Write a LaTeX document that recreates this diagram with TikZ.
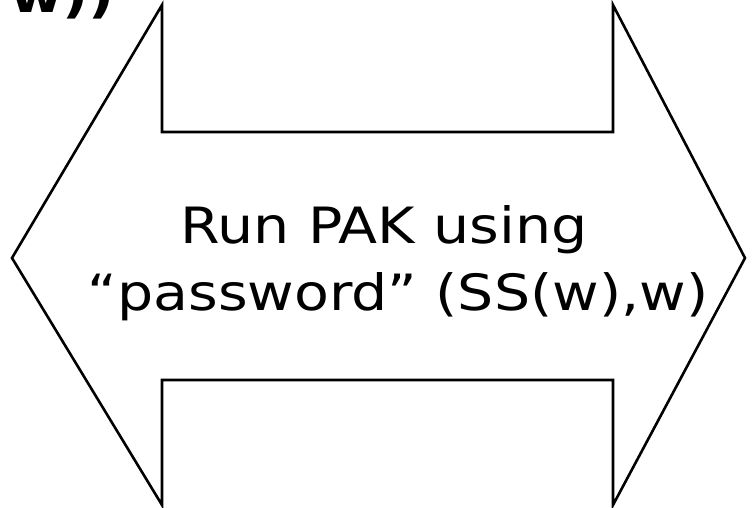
\documentclass[tikz,border=0pt]{standalone}
\usepackage{fontspec}
\setmainfont{DejaVu Sans}
\newfontfamily\widesans[FakeStretch=1.14,Ligatures=TeX]{DejaVu Sans}
\usetikzlibrary{calc,shapes,arrows}

\begin{document}
\begin{tikzpicture}[x=1pt,y=-1pt,
            every node/.style = {inner sep=0pt, outer sep=0pt},
            label text/.style = {font=\widesans\fontsize{50}{60}\selectfont, anchor=base},
            arrow shape/.style = {draw, line width=2.6pt, line join=miter}
            ]
            \useasboundingbox (0,0) rectangle (754,508);
            % double arrow outline
            \coordinate (ltip) at (12,258);
            \coordinate (rtip) at (745,258);
            \draw[arrow shape] (ltip) -- (162,5) -- (162,132) -- (613,132)
                -- (613,5) -- (rtip) -- (613,505) -- (613,380) -- (162,380)
                -- (162,505) -- cycle;
            % labels
            \node[label text] (runpak) at (384,243) {Run PAK using};
            \node[label text] (pwd) at (398,310) {“password” (SS(w),w)};
            \node[label text, font=\widesans\bfseries\fontsize{50}{60}\selectfont, anchor=base east] (topw) at (115,13) {w))};
        \end{tikzpicture}
\end{document}
